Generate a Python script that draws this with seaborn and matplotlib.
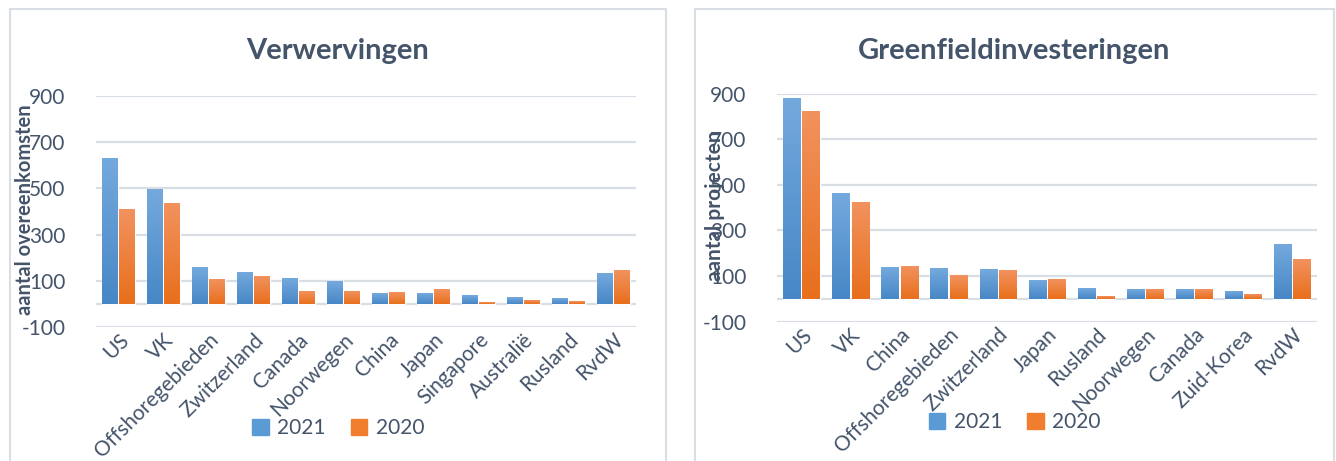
import matplotlib
matplotlib.use("Agg")
import matplotlib.pyplot as plt
from matplotlib.patches import Rectangle
from matplotlib.colors import to_rgb
import numpy as np
import pandas as pd
import seaborn as sns

# Verwervingen (acquisitions)
acq_countries = ["US", "VK", "Offshoregebieden", "Zwitzerland", "Canada", "Noorwegen",
                 "China", "Japan", "Singapore", "Australië", "Rusland", "RvdW"]
acq_2021 = [630, 495, 158, 136, 110, 97, 45, 45, 37, 28, 24, 132]
acq_2020 = [410, 433, 106, 119, 54, 54, 50, 62, 6, 15, 10, 145]

# Greenfieldinvesteringen
gf_countries = ["US", "VK", "China", "Offshoregebieden", "Zwitzerland", "Japan", "Rusland",
                "Noorwegen", "Canada", "Zuid-Korea", "RvdW"]
gf_2021 = [878, 462, 137, 133, 128, 80, 45, 41, 41, 32, 238]
gf_2020 = [821, 422, 142, 102, 124, 85, 10, 41, 41, 19, 172]

years = ["2021", "2020"]
y_ticks = [-100, 100, 300, 500, 700, 900]

TEXT = "#44546A"
GRID = "#D9DEE4"
COLORS = {"2021": "#5B9BD5", "2020": "#F07E2E"}
# vertical fill of each bar: top colour -> bottom colour
GRADIENTS = {"2021": ("#74A9DD", "#4787C6"), "2020": ("#F2925E", "#E86F1C")}

sns.set_theme(style="white")
plt.rcParams["font.family"] = ["Lato", "DejaVu Sans"]
plt.rcParams["axes.unicode_minus"] = False

W, H = 1336, 461
fig = plt.figure(figsize=(W / 100, H / 100), dpi=100)


def long_frame(countries, v21, v20):
    return pd.DataFrame({
        "land": countries * 2,
        "jaar": ["2021"] * len(countries) + ["2020"] * len(countries),
        "waarde": list(v21) + list(v20),
    })


def shade_bars(ax, n):
    """Paint each bar with a vertical gradient in its series colours."""
    bars = [p for p in ax.patches if isinstance(p, Rectangle)][: 2 * n]
    for i, bar in enumerate(bars):
        top, bottom = GRADIENTS[years[i // n]]
        t = np.linspace(0, 1, 64)[:, None]
        grad = (1 - t) * np.array(to_rgb(top)) + t * np.array(to_rgb(bottom))
        x, y = bar.get_x(), bar.get_y()
        w, h = bar.get_width(), bar.get_height()
        ax.imshow(grad[:, None, :], extent=[x, x + w, y, y + h], origin="upper",
                  aspect="auto", interpolation="bilinear", zorder=4)
        bar.set_zorder(4)


def panel(rect_px, axes_px, countries, v21, v20, title, ylabel, ylabel_x,
          title_y, legend_y, ylabel_size):
    # panel frame
    x0, x1, y0 = rect_px
    fig.patches.append(Rectangle((x0 / W, -0.05), (x1 - x0) / W, 1 - y0 / H + 0.05,
                                 transform=fig.transFigure, fill=False,
                                 edgecolor=GRID, linewidth=1.5, zorder=0))
    ax_l, ax_r, ax_t, ax_b = axes_px
    ax = fig.add_axes([ax_l / W, 1 - ax_b / H, (ax_r - ax_l) / W, (ax_b - ax_t) / H])
    df = long_frame(countries, v21, v20)
    sns.barplot(data=df, x="land", y="waarde", hue="jaar", order=countries,
                hue_order=years, palette=COLORS, width=0.78, gap=0.1,
                saturation=1, ax=ax, legend=False)
    shade_bars(ax, len(countries))
    ax.set_ylim(-100, 900)
    ax.set_yticks(y_ticks)
    ax.set_xlim(-0.5, len(countries) - 0.5)
    for v in y_ticks:
        ax.axhline(v, color=GRID, linewidth=1.6, zorder=1)
    ax.axhline(0, color=GRID, linewidth=1.6, zorder=2)
    for s in ax.spines.values():
        s.set_visible(False)
    ax.tick_params(axis="y", length=0, pad=22, labelsize=15, labelcolor=TEXT)
    ax.tick_params(axis="x", length=0, pad=2, labelsize=15, labelcolor=TEXT)
    ax.set_xticks(range(len(countries)))
    ax.set_xticklabels(countries, rotation=45, ha="right", rotation_mode="anchor")
    ax.set_xlabel("")
    ax.set_ylabel("")
    cx = (x0 + x1) / 2
    fig.text(cx / W, 1 - title_y / H, title, ha="center", va="center",
             fontsize=21, fontweight="bold", color=TEXT)
    fig.text(ylabel_x / W, 1 - ((ax_t + ax_b) / 2 - 2) / H, ylabel, rotation=90,
             ha="center", va="center", fontsize=ylabel_size, fontweight="bold",
             color=TEXT)
    handles = [Rectangle((0, 0), 1, 1, color=COLORS[y]) for y in years]
    fig.legend(handles, years, loc="center", bbox_to_anchor=(cx / W, 1 - legend_y / H),
               ncol=2, frameon=False, fontsize=15, labelcolor=TEXT,
               handlelength=0.8, handleheight=0.8, handletextpad=0.4,
               columnspacing=1.2)
    return ax


panel((10, 666, 9.5), (96, 636, 96, 327), acq_countries, acq_2021, acq_2020,
      "Verwervingen", "aantal overeenkomsten", 25, 51, 428, 14.5)
panel((695, 1334, 9.5), (777, 1316.5, 93.7, 321.7), gf_countries, gf_2021, gf_2020,
      "Greenfieldinvesteringen", "aantal projecten", 715, 51, 422, 15)

fig.savefig("out.png", dpi=100, facecolor="white")
